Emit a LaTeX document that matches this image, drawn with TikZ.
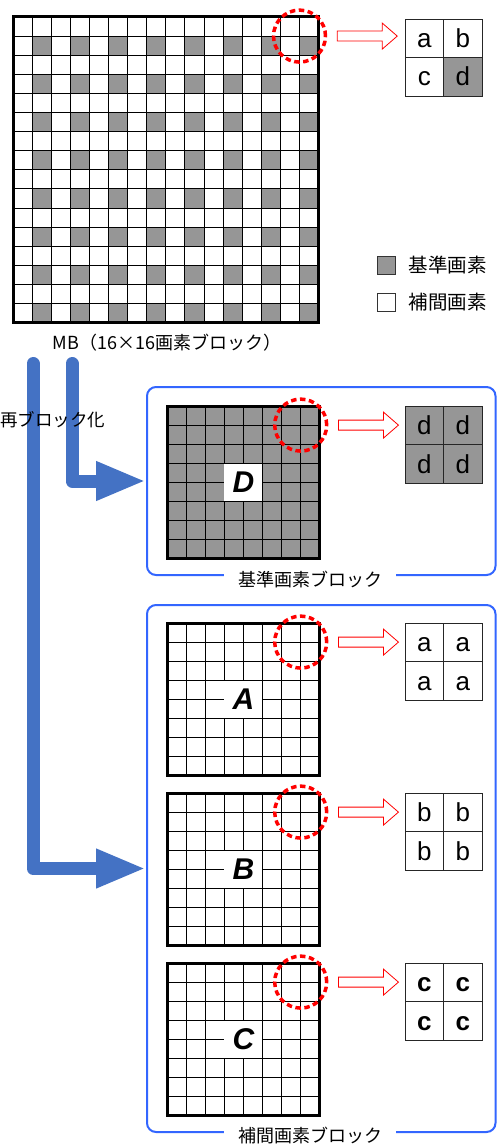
\documentclass[tikz,border=0pt]{standalone}
\usepackage{fontspec}
\setmainfont{Liberation Sans}
\newfontfamily\jpfont{Noto Sans CJK JP}
\usetikzlibrary{arrows.meta,calc,positioning}

\definecolor{refgray}{RGB}{150,150,150}
\definecolor{arrowblue}{RGB}{68,114,196}
\definecolor{boxblue}{RGB}{51,102,255}

\tikzset{
  cellline/.style={line width=1pt, draw=black},
  frame/.style={line width=3pt, draw=black},
  zoomring/.style={circle, draw=red, line width=3.5pt, dash pattern=on 5.5pt off 3.5pt, minimum size=52pt, inner sep=0pt},
  hollow/.style={draw=red, fill=white, line width=0.8pt},
  flow/.style={draw=arrowblue, line width=13pt, line join=round, line cap=round, -{Triangle[length=50pt,width=36pt]}},
  groupbox/.style={draw=boxblue, line width=2pt, rounded corners=9pt, minimum width=348.5pt, inner sep=0pt},
  grouplabel/.style={fill=white, inner xsep=14pt, inner ysep=1pt, font=\jpfont\fontsize{18}{18}\selectfont},
  pixel/.style={draw=black!85, line width=0.8pt, minimum size=38.5pt, inner sep=0pt, outer sep=0pt, text height=18.5pt, text depth=0pt, font=\fontsize{26}{26}\selectfont},
  blockname/.style={fill=white, minimum width=38pt, minimum height=37pt, inner sep=0pt, font=\fontsize{30}{30}\selectfont\bfseries\itshape},
  keybox/.style={draw=black!80, line width=0.8pt, minimum size=18pt, inner sep=0pt},
  keytext/.style={font=\jpfont\fontsize{19.5}{19.5}\selectfont},
}

% red hollow arrow next to a zoom ring
\newcommand\hollowarrow[1]{%
  \draw[hollow] ($(#1.east)+(10,5)$) -- ++(45,0) -- ++(0,8) -- ++(15,-13) -- ++(-15,-13) -- ++(0,8) -- ++(-45,0) -- cycle;}

% 8x8 sub block: top y, fill, label, name
\newcommand\subblock[4]{%
  \fill[#2] (167,#1) rectangle ++(152.8,152.8);
  \foreach \i in {1,...,7} {
    \draw[cellline] (167+\i*19.1,#1) -- ++(0,152.8);
    \draw[cellline] (167,#1+\i*19.1) -- ++(152.8,0);}
  \draw[frame] (167,#1) rectangle ++(152.8,152.8);
  \node[blockname] (#4name) at (243.4,#1+76.4) {#3};
  \node[zoomring] (#4ring) at (300.7,#1+19.1) {};
  \hollowarrow{#4ring}}

% 2x2 pixels: name, top-left cell centre, letters
\newcommand\pixquad[7][]{%
  \node[pixel,#1] (#2a) at #3 {#4};
  \node[pixel,#1, right=0pt of #2a] (#2b) {#5};
  \node[pixel,#1, below=0pt of #2a] (#2c) {#6};
  \node[pixel,#1, right=0pt of #2c] (#2d) {#7};}

\begin{document}
\begin{tikzpicture}[x=1pt,y=-1pt]
\useasboundingbox (0,0) rectangle (497,1145);

% macroblock 16x16
\foreach \r in {1,3,...,15}
  \foreach \c in {1,3,...,15}
    \fill[refgray] (13+\c*19.1,17+\r*19.1) rectangle ++(19.1,19.1);
\foreach \i in {1,...,15} {
  \draw[cellline] (13+\i*19.1,17) -- ++(0,305.6);
  \draw[cellline] (13,17+\i*19.1) -- ++(305.6,0);}
\draw[frame] (13,17) rectangle ++(305.6,305.6);
\node[zoomring] (mbring) at (299.5,36.1) {};
\hollowarrow{mbring}

\node[pixel] (qa) at (424.25,38.25) {a};
\node[pixel, right=0pt of qa] (qb) {b};
\node[pixel, below=0pt of qa] (qc) {c};
\node[pixel, fill=refgray, right=0pt of qc] (qd) {d};

\node[font=\jpfont\fontsize{18}{18}\selectfont] (mblabel) at (167,343) {MB（16×16画素ブロック）};

% legend
\node[keybox, fill=refgray] (keybase) at (386,265) {};
\node[keytext, right=10pt of keybase] (keybasetext) {基準画素};
\node[keybox, fill=white] (keyinterp) at (386,302.5) {};
\node[keytext, right=10pt of keyinterp] (keyinterptext) {補間画素};

% groups
\node[groupbox, minimum height=188pt] (box1) at (321.25,481) {};
\node[groupbox, minimum height=527pt] (box2) at (321.25,868.5) {};

\subblock{406}{refgray}{D}{D}
\pixquad[fill=refgray]{dq}{(424.25,425.25)}{d}{d}{d}{d}
\subblock{623}{white}{A}{A}
\pixquad{aq}{(424.25,642.25)}{a}{a}{a}{a}
\subblock{793}{white}{B}{B}
\pixquad{bq}{(424.25,812.25)}{b}{b}{b}{b}
\subblock{963}{white}{C}{C}
\pixquad[font=\fontsize{26}{26}\selectfont\bfseries]{cq}{(424.25,982.25)}{c}{c}{c}{c}

\node[grouplabel] (box1label) at ($(box1.south)+(-11,4)$) {基準画素ブロック};
\node[grouplabel] (box2label) at ($(box2.south)+(-11,3)$) {補間画素ブロック};

% re-blocking arrows
\coordinate (rsrc) at (72,363.5);
\coordinate (lsrc) at (33,363.5);
\draw[flow] (rsrc) |- (box1.west);
\draw[flow] (lsrc) |- (box2.west);
\node[anchor=west, inner sep=0pt, font=\jpfont\fontsize{17.5}{17.5}\selectfont] (reblock) at (0,420) {再ブロック化};

\end{tikzpicture}
\end{document}
